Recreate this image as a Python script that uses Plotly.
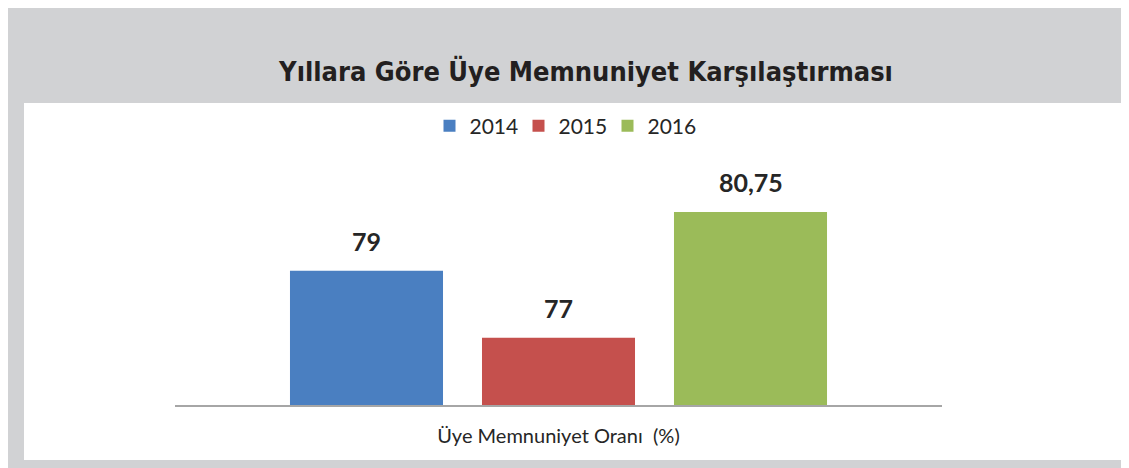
import plotly.graph_objects as go

# ---- data ----
category = ["Üye Memnuniyet Oranı\u00a0\u00a0(%)"]
years = ["2014", "2015", "2016"]
values = [79, 77, 80.75]
labels = ["79", "77", "80,75"]
colors = ["#4A7FC1", "#C5504D", "#9BBB59"]

TITLE = "Yıllara Göre Üye Memnuniyet Karşılaştırması"

W, H = 1129, 468
L, R, T, B = 167, 195, 162, 71
BARGAP = 0.249
BARGROUPGAP = 0.203
Y_RANGE = [75, 82]

fig = go.Figure()
for yr, v, c in zip(years, values, colors):
    fig.add_trace(go.Bar(name=yr, x=category, y=[v], marker=dict(color=c, line=dict(width=0)),
                         hoverinfo="skip"))

# data labels above bars (positions derived from bargap)
n = len(years)
slot = (1 - BARGAP) / n
for k, (v, lab) in enumerate(zip(values, labels)):
    fig.add_annotation(x=(k - (n - 1) / 2) * slot, y=v, xref="x", yref="y", text=f"<b>{lab}</b>",
                       showarrow=False, yanchor="bottom", yshift=13,
                       font=dict(family="Lato, Open Sans, sans-serif", size=25, color="#262626"))

pw = W - L - R
ph = H - T - B
def px_x(p):
    return (p - L) / pw
def px_y(p):
    return (H - B - p) / ph

# frame: gray border and white panel
fig.add_shape(type="rect", xref="paper", yref="paper", x0=px_x(-2), x1=px_x(W + 2), y0=px_y(-2), y1=px_y(H + 2),
              fillcolor="#D1D2D4", line=dict(width=0), layer="below")
fig.add_shape(type="rect", xref="paper", yref="paper", x0=px_x(16), x1=px_x(1119), y0=px_y(95), y1=px_y(452),
              fillcolor="#FFFFFF", line=dict(width=0), layer="below")

fig.update_layout(
    width=W, height=H,
    margin=dict(l=L, r=R, t=T, b=B),
    paper_bgcolor="#D1D2D4",
    plot_bgcolor="rgba(0,0,0,0)",
    barmode="group", bargap=BARGAP, bargroupgap=BARGROUPGAP,
    title=dict(text=f"<b>{TITLE}</b>", xref="container", yref="container",
               x=578 / W, y=1 - 64 / H, xanchor="center", yanchor="middle",
               font=dict(family="Liberation Sans Narrow, Arial Narrow, DejaVu Sans Condensed, sans-serif",
                         size=27, color="#231F20")),
    legend=dict(orientation="h", x=px_x(555), y=px_y(118), xanchor="center", yanchor="middle",
                font=dict(family="Lato, Open Sans, sans-serif", size=21, color="#262626"),
                bgcolor="rgba(0,0,0,0)", entrywidth=44, entrywidthmode="pixels"),
    xaxis=dict(showline=True, linecolor="#A6A6A6", linewidth=2, ticks="", showgrid=False,
               tickfont=dict(family="Lato, Open Sans, sans-serif", size=20, color="#262626"),
               ticklabelstandoff=12),
    yaxis=dict(range=Y_RANGE, visible=False, showgrid=False, zeroline=False),
    showlegend=True,
)

fig.write_html("out.html")
